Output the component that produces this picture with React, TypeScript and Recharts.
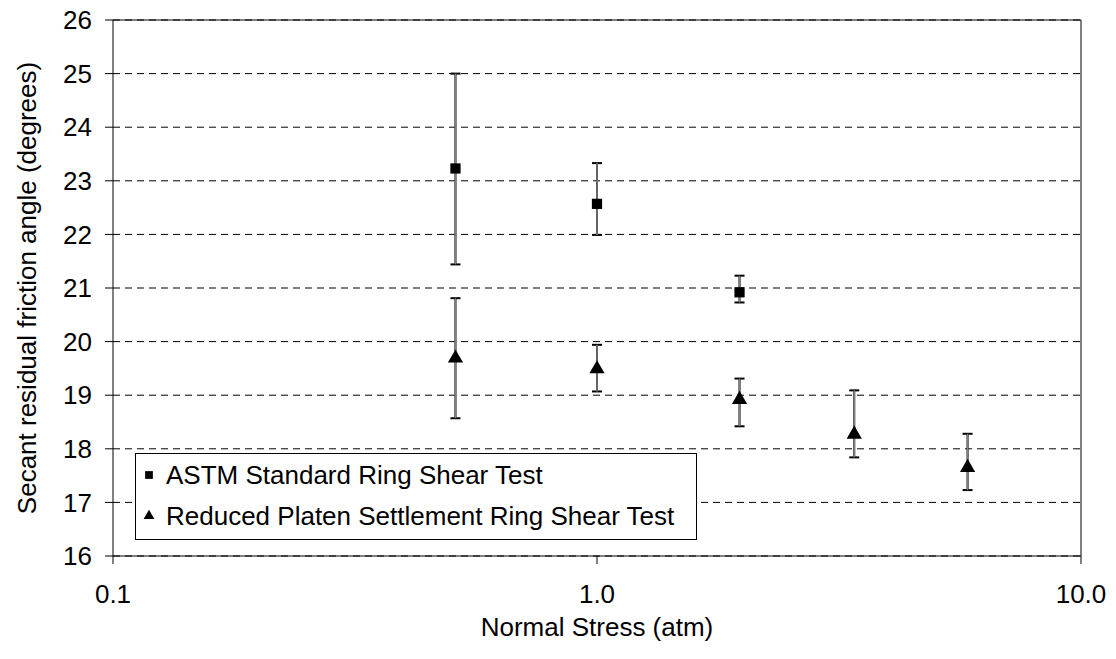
import React from 'react';
import {
  ScatterChart,
  Scatter,
  XAxis,
  YAxis,
  CartesianGrid,
  ErrorBar,
  ReferenceLine,
  Legend,
  Symbols,
} from 'recharts';

const astmStress = [0.51, 1.0, 1.97];
const astmAngle = [23.23, 22.57, 20.92];
const astmLow = [21.44, 21.99, 20.73];
const astmHigh = [25.0, 23.33, 21.23];

const rpsStress = [0.51, 1.0, 1.97, 3.4, 5.83];
const rpsAngle = [19.69, 19.49, 18.92, 18.27, 17.65];
const rpsLow = [18.57, 19.07, 18.42, 17.84, 17.23];
const rpsHigh = [20.81, 19.94, 19.31, 19.09, 18.28];

const xTicks = [0.1, 1, 10];
const yTicks = [16, 17, 18, 19, 20, 21, 22, 23, 24, 25, 26];

const seriesNames = ['ASTM Standard Ring Shear Test', 'Reduced Platen Settlement Ring Shear Test'];

const FONT = '"Liberation Sans", Arial, sans-serif';
const FS = 26;

const astmData = astmStress.map((x, i) => ({
  x,
  y: astmAngle[i],
  err: [astmAngle[i] - astmLow[i], astmHigh[i] - astmAngle[i]],
}));
const rpsData = rpsStress.map((x, i) => ({
  x,
  y: rpsAngle[i],
  err: [rpsAngle[i] - rpsLow[i], rpsHigh[i] - rpsAngle[i]],
}));

const squareShape = (p: any) => <Symbols cx={p.cx} cy={p.cy} type="square" size={105} fill="#000" />;
const triangleShape = (p: any) => <Symbols cx={p.cx} cy={p.cy} type="triangle" size={100} fill="#000" />;

const renderLegend = (props: any) => {
  const items = props.payload || [];
  return (
    <div
      style={{
        width: 562,
        height: 87,
        border: '1px solid #000',
        background: '#fff',
        boxSizing: 'border-box',
        fontFamily: FONT,
        fontSize: FS,
        color: '#000',
        paddingTop: 0,
        lineHeight: 1,
      }}
    >
      {items.map((it: any, i: number) => (
        <div key={i} style={{ display: 'flex', alignItems: 'center', height: 41 }}>
          <svg width={26} height={20} style={{ marginLeft: 0 }}>
            <Symbols
              cx={13}
              cy={10}
              type={it.type === 'triangle' ? 'triangle' : 'square'}
              size={it.type === 'triangle' ? 50 : 60}
              fill="#000"
            />
          </svg>
          <span style={{ marginLeft: 4 }}>{it.value}</span>
        </div>
      ))}
    </div>
  );
};

export default function App() {
  return (
    <div style={{ position: 'absolute', left: 0, top: 0, width: 1116, height: 659, background: '#fff' }}>
      <ScatterChart
        width={1116}
        height={659}
        margin={{ top: 20, right: 35, left: 0, bottom: 18 }}
        style={{ fontFamily: FONT }}
      >
        <CartesianGrid vertical={false} stroke="#000" strokeDasharray="7 5" />
        <XAxis
          dataKey="x"
          type="number"
          scale="log"
          domain={[0.1, 10]}
          ticks={xTicks}
          allowDataOverflow
          tickFormatter={(v: number) => v.toFixed(1)}
          tickSize={8}
          tickMargin={21}
          height={85}
          stroke="#000"
          tick={{ fill: '#000', fontSize: FS, fontFamily: FONT }}
          label={{
            value: 'Normal Stress (atm)',
            position: 'insideBottom',
            offset: 5,
            style: { fill: '#000', fontSize: FS, fontFamily: FONT },
          }}
        />
        <YAxis
          dataKey="y"
          type="number"
          domain={[16, 26]}
          ticks={yTicks}
          allowDataOverflow
          tickSize={8}
          tickMargin={13}
          width={113}
          stroke="#000"
          tick={{ fill: '#000', fontSize: FS, fontFamily: FONT }}
          label={{
            value: 'Secant residual friction angle (degrees)',
            angle: -90,
            position: 'insideLeft',
            offset: 27,
            style: { textAnchor: 'middle', fill: '#000', fontSize: FS, fontFamily: FONT },
          }}
        />
        <ReferenceLine y={26} stroke="#000" strokeWidth={1} />
        <ReferenceLine x={10} stroke="#000" strokeWidth={1} />
        <Legend
          layout="vertical"
          align="center"
          verticalAlign="middle"
          content={renderLegend}
          wrapperStyle={{ left: 135, top: 453, width: 562, height: 87 }}
        />
        <Scatter
          name={seriesNames[0]}
          data={astmData}
          shape={squareShape}
          legendType="square"
          fill="#000"
          isAnimationActive={false}
        >
          <ErrorBar dataKey="err" direction="y" width={5} stroke="#000" strokeWidth={2} />
          <ErrorBar dataKey="err" direction="y" width={0} stroke="#808080" strokeWidth={1.6} />
        </Scatter>
        <Scatter
          name={seriesNames[1]}
          data={rpsData}
          shape={triangleShape}
          legendType="triangle"
          fill="#000"
          isAnimationActive={false}
        >
          <ErrorBar dataKey="err" direction="y" width={5} stroke="#000" strokeWidth={2} />
          <ErrorBar dataKey="err" direction="y" width={0} stroke="#808080" strokeWidth={1.6} />
        </Scatter>
      </ScatterChart>
    </div>
  );
}
